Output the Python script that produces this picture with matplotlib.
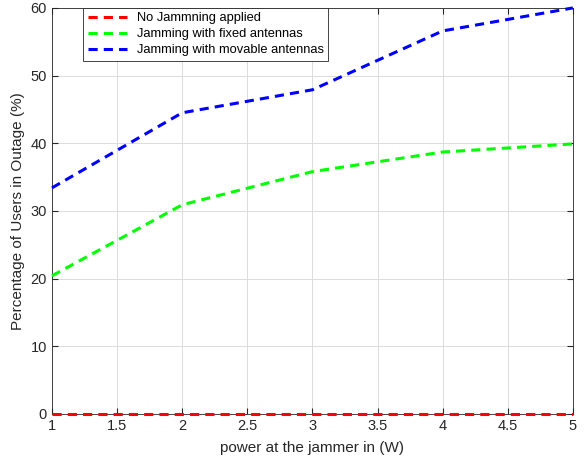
import numpy as np
import matplotlib.pyplot as plt

plt.rcParams['font.family'] = ['Liberation Sans', 'DejaVu Sans']

power = [1, 2, 3, 4, 5]
no_jam = [0, 0, 0, 0, 0]
fixed_ant = [20.4, 30.9, 35.8, 38.7, 39.9]
movable_ant = [33.4, 44.5, 47.9, 56.6, 60.0]

xticks = [1, 1.5, 2, 2.5, 3, 3.5, 4, 4.5, 5]
yticks = [0, 10, 20, 30, 40, 50, 60]

fig = plt.figure(figsize=(5.84, 4.66), dpi=100)
ax = fig.add_axes([0.089, 0.112, 0.892, 0.871])

dash = (3.0, 2.0)
lw = 2.2
ax.plot(power, no_jam, color='red', lw=lw, ls='--', dashes=dash, clip_on=False, zorder=4,
        label='No Jammning applied')
ax.plot(power, fixed_ant, color=(0, 1, 0), lw=lw, ls='--', dashes=dash, clip_on=False, zorder=4,
        label='Jamming with fixed antennas')
ax.plot(power, movable_ant, color='blue', lw=lw, ls='--', dashes=dash, clip_on=False, zorder=4,
        label='Jamming with movable antennas')

ax.set_xlim(1, 5)
ax.set_ylim(0, 60)
ax.set_xticks(xticks)
ax.set_xticklabels(['1', '1.5', '2', '2.5', '3', '3.5', '4', '4.5', '5'])
ax.set_yticks(yticks)
ax.grid(True, color='#dcdcdc', lw=0.7)
ax.set_axisbelow(True)
ax.tick_params(direction='in', top=True, right=True, labelsize=10.5, colors='#262626', length=4)
for s in ax.spines.values():
    s.set_color('#262626')
    s.set_linewidth(0.6)

ax.set_xlabel('power at the jammer in (W)', fontsize=11, color='#262626', labelpad=6)
ax.set_ylabel('Percentage of Users in Outage (%)', fontsize=11, color='#262626')

leg = ax.legend(loc='upper left', bbox_to_anchor=(0.06, 1.0), fontsize=9.3, fancybox=False,
                framealpha=1, edgecolor='#262626', borderpad=0.35, labelspacing=0.3,
                handlelength=3.0, handletextpad=0.8, borderaxespad=0)
leg.get_frame().set_linewidth(0.6)
leg.set_zorder(5)

plt.savefig('out.png', dpi=100)
